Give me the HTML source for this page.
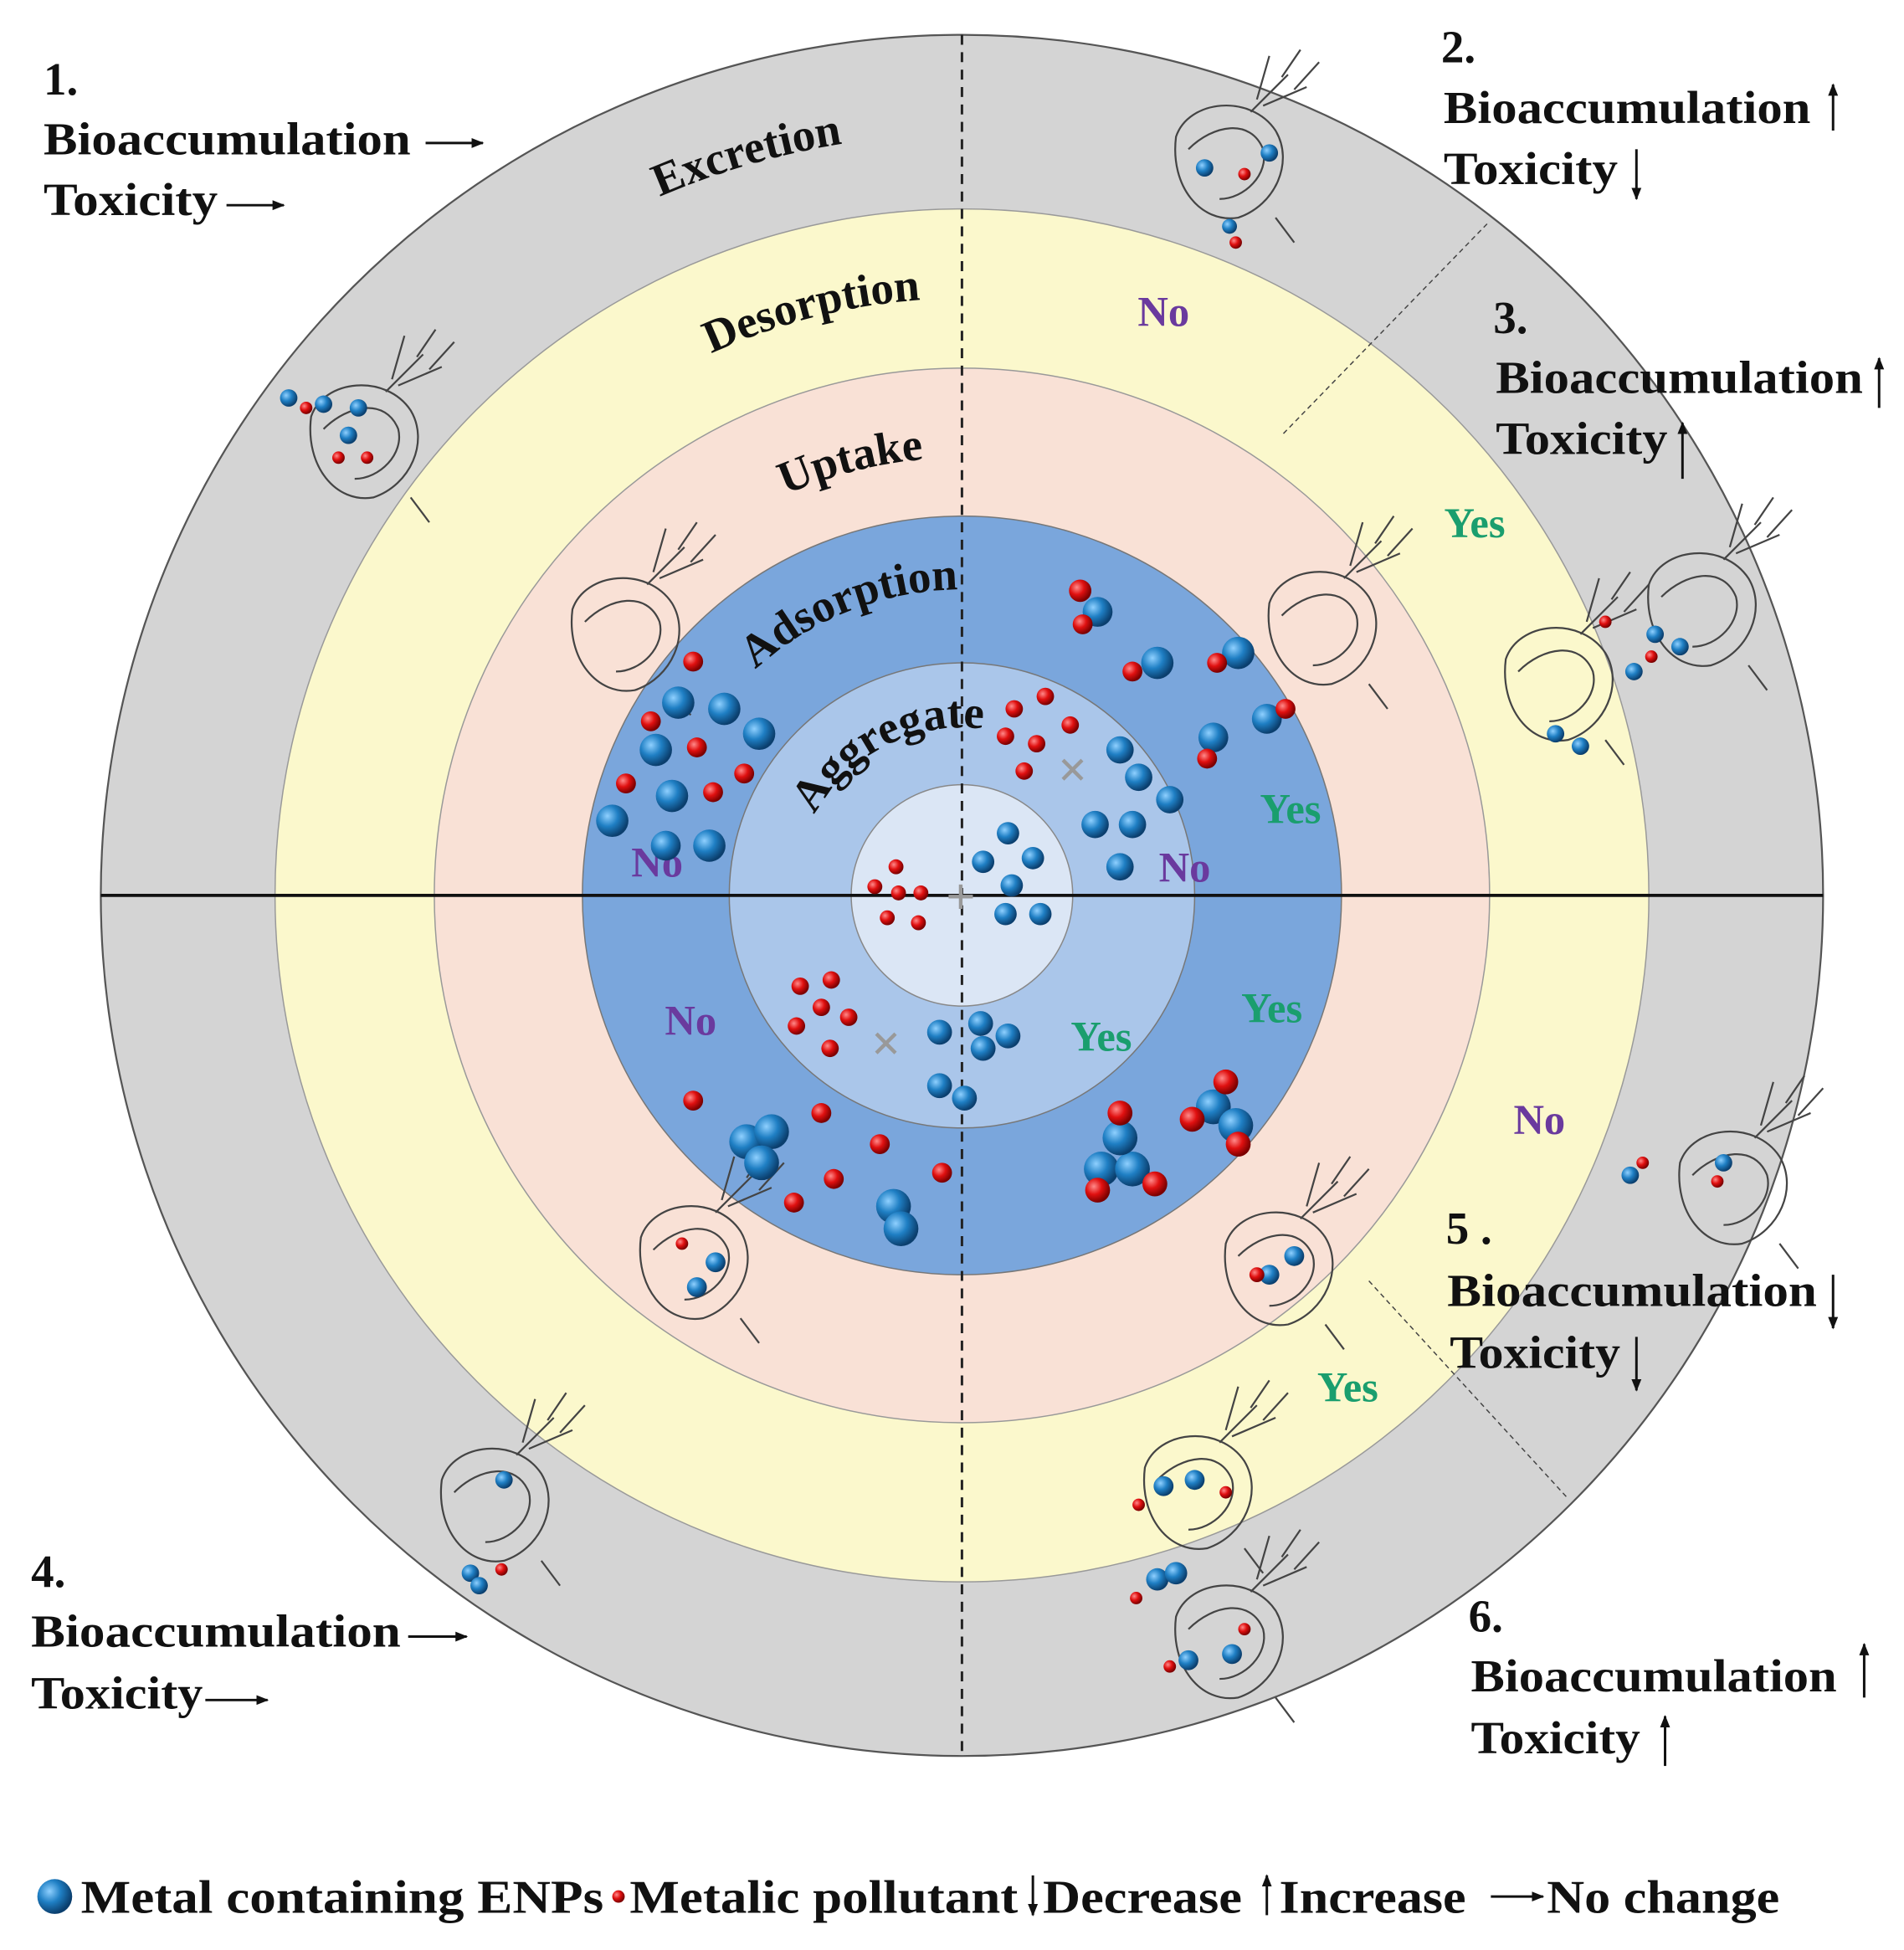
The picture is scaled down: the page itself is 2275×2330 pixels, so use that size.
<!DOCTYPE html>
<html><head><meta charset="utf-8"><style>
html,body{margin:0;padding:0;background:#fff;}
svg{display:block;}
text{font-family:"Liberation Serif",serif;font-weight:bold;}
</style></head><body>
<svg width="2275" height="2330" viewBox="0 0 1530 1568" preserveAspectRatio="none" xmlns="http://www.w3.org/2000/svg">
<defs>
<radialGradient id="bg" cx="35%" cy="35%" r="65%"><stop offset="0" stop-color="#8fd0ff"/><stop offset="0.5" stop-color="#1f7fc4"/><stop offset="1" stop-color="#0b3f6e"/></radialGradient>
<radialGradient id="rg" cx="35%" cy="35%" r="65%"><stop offset="0" stop-color="#ff8a8a"/><stop offset="0.5" stop-color="#e01010"/><stop offset="1" stop-color="#7a0000"/></radialGradient>
<marker id="ah" viewBox="0 0 10 10" refX="9" refY="5" markerWidth="5" markerHeight="5" orient="auto"><path d="M0,1 L10,5 L0,9 Z" fill="#111"/></marker>
<g id="daph" fill="none" stroke="#444" stroke-width="1.5">
<path d="M-40,-10 C-30,-40 20,-45 40,-15 C55,10 40,45 10,55 C-20,60 -45,30 -40,-10Z"/>
<path d="M-30,0 C-10,-20 20,-25 30,0 C35,20 15,40 -5,40"/>
<path d="M20,-30 L50,-60 M30,-35 L65,-50 M25,-40 L35,-75 M45,-58 L60,-80 M55,-48 L75,-70"/>
<path d="M40,55 L55,75"/>
</g>
</defs>
<rect width="1530" height="1568" fill="#fff"/>
<circle cx="773" cy="720" r="692" fill="#d4d4d4" stroke="#555" stroke-width="1.5"/>
<circle cx="773" cy="720" r="552" fill="#fbf8cc" stroke="#999" stroke-width="1"/>
<circle cx="773" cy="720" r="424" fill="#f9e1d6" stroke="#999" stroke-width="1"/>
<circle cx="773" cy="720" r="305" fill="#7aa6dc" stroke="#777" stroke-width="1"/>
<circle cx="773" cy="720" r="187" fill="#aac6ea" stroke="#777" stroke-width="1"/>
<circle cx="773" cy="720" r="89" fill="#dbe6f5" stroke="#888" stroke-width="1"/>
<line x1="81" y1="720" x2="1465" y2="720" stroke="#111" stroke-width="2.5"/>
<line x1="773" y1="28" x2="773" y2="1412" stroke="#222" stroke-width="2" stroke-dasharray="8,6"/>
<line x1="1195" y1="180" x2="1030" y2="350" stroke="#444" stroke-width="1" stroke-dasharray="4,3"/>
<line x1="1100" y1="1030" x2="1260" y2="1205" stroke="#444" stroke-width="1" stroke-dasharray="4,3"/>
<path id="p1" d="M161,720 A612,612 0 0 1 1385,720" fill="none"/>
<path id="p2" d="M293,720 A480,480 0 0 1 1253,720" fill="none"/>
<path id="p3" d="M421,720 A352,352 0 0 1 1125,720" fill="none"/>
<path id="p4" d="M527,720 A246,246 0 0 1 1019,720" fill="none"/>
<path id="p5" d="M638,720 A135,135 0 0 1 908,720" fill="none"/>
<g font-size="37" fill="#111">
<text><textPath href="#p1" startOffset="41%" text-anchor="middle">Excretion</textPath></text>
<text><textPath href="#p2" startOffset="42%" text-anchor="middle">Desorption</textPath></text>
<text><textPath href="#p3" startOffset="42%" text-anchor="middle">Uptake</textPath></text>
<text><textPath href="#p4" startOffset="38%" text-anchor="middle">Adsorption</textPath></text>
<text><textPath href="#p5" startOffset="35%" text-anchor="middle">Aggregate</textPath></text>
</g>
<g font-size="34" text-anchor="middle">
<text x="935" y="262" fill="#6a3a9e">No</text>
<text x="1185" y="432" fill="#1a9e6e">Yes</text>
<text x="1037" y="662" fill="#1a9e6e">Yes</text>
<text x="952" y="709" fill="#6a3a9e">No</text>
<text x="528" y="705" fill="#6a3a9e">No</text>
<text x="555" y="832" fill="#6a3a9e">No</text>
<text x="885" y="845" fill="#1a9e6e">Yes</text>
<text x="1022" y="822" fill="#1a9e6e">Yes</text>
<text x="1237" y="912" fill="#6a3a9e">No</text>
<text x="1083" y="1127" fill="#1a9e6e">Yes</text>
</g>
<g>
<use href="#daph" x="290" y="345"/><use href="#daph" x="500" y="500"/><use href="#daph" x="985" y="120"/>
<use href="#daph" x="1060" y="495"/><use href="#daph" x="1250" y="540"/><use href="#daph" x="1365" y="480"/>
<use href="#daph" x="1390" y="945"/><use href="#daph" x="1025" y="1010"/><use href="#daph" x="555" y="1005"/>
<use href="#daph" x="395" y="1200"/><use href="#daph" x="960" y="1190"/><use href="#daph" x="985" y="1310"/>
</g>
<g fill="url(#bg)">
<circle cx="545" cy="565" r="13"/><circle cx="582" cy="570" r="13"/><circle cx="610" cy="590" r="13"/><circle cx="527" cy="603" r="13"/>
<circle cx="540" cy="640" r="13"/><circle cx="492" cy="660" r="13"/><circle cx="535" cy="680" r="12"/><circle cx="570" cy="680" r="13"/>
<circle cx="882" cy="492" r="12"/><circle cx="930" cy="533" r="13"/><circle cx="995" cy="525" r="13"/><circle cx="975" cy="593" r="12"/><circle cx="1018" cy="578" r="12"/>
<circle cx="900" cy="603" r="11"/><circle cx="915" cy="625" r="11"/><circle cx="940" cy="643" r="11"/><circle cx="880" cy="663" r="11"/><circle cx="910" cy="663" r="11"/><circle cx="900" cy="697" r="11"/>
<circle cx="810" cy="670" r="9"/><circle cx="790" cy="693" r="9"/><circle cx="830" cy="690" r="9"/><circle cx="813" cy="712" r="9"/><circle cx="808" cy="735" r="9"/><circle cx="836" cy="735" r="9"/>
<circle cx="755" cy="830" r="10"/><circle cx="788" cy="823" r="10"/><circle cx="810" cy="833" r="10"/><circle cx="790" cy="843" r="10"/><circle cx="755" cy="873" r="10"/><circle cx="775" cy="883" r="10"/>
<circle cx="600" cy="918" r="14"/><circle cx="620" cy="910" r="14"/><circle cx="612" cy="935" r="14"/><circle cx="718" cy="970" r="14"/><circle cx="724" cy="988" r="14"/>
<circle cx="885" cy="940" r="14"/><circle cx="910" cy="940" r="14"/><circle cx="900" cy="915" r="14"/><circle cx="975" cy="890" r="14"/><circle cx="993" cy="905" r="14"/>
<circle cx="260" cy="325" r="7"/><circle cx="288" cy="328" r="7"/><circle cx="280" cy="350" r="7"/><circle cx="232" cy="320" r="7"/>
<circle cx="1313" cy="540" r="7"/><circle cx="1350" cy="520" r="7"/><circle cx="1330" cy="510" r="7"/><circle cx="1250" cy="590" r="7"/><circle cx="1270" cy="600" r="7"/>
<circle cx="988" cy="182" r="6"/><circle cx="1020" cy="123" r="7"/><circle cx="968" cy="135" r="7"/>
<circle cx="1310" cy="945" r="7"/><circle cx="1385" cy="935" r="7"/><circle cx="1020" cy="1025" r="8"/><circle cx="1040" cy="1010" r="8"/>
<circle cx="378" cy="1265" r="7"/><circle cx="385" cy="1275" r="7"/><circle cx="405" cy="1190" r="7"/>
<circle cx="930" cy="1270" r="9"/><circle cx="945" cy="1265" r="9"/><circle cx="990" cy="1330" r="8"/><circle cx="955" cy="1335" r="8"/>
<circle cx="575" cy="1015" r="8"/><circle cx="560" cy="1035" r="8"/><circle cx="935" cy="1195" r="8"/><circle cx="960" cy="1190" r="8"/>
<circle cx="44" cy="1525" r="14"/>
</g>
<g fill="url(#rg)">
<circle cx="557" cy="532" r="8"/><circle cx="523" cy="580" r="8"/><circle cx="560" cy="601" r="8"/><circle cx="503" cy="630" r="8"/><circle cx="573" cy="637" r="8"/><circle cx="598" cy="622" r="8"/>
<circle cx="868" cy="475" r="9"/><circle cx="870" cy="502" r="8"/><circle cx="910" cy="540" r="8"/><circle cx="978" cy="533" r="8"/><circle cx="970" cy="610" r="8"/><circle cx="1033" cy="570" r="8"/>
<circle cx="815" cy="570" r="7"/><circle cx="840" cy="560" r="7"/><circle cx="860" cy="583" r="7"/><circle cx="808" cy="592" r="7"/><circle cx="833" cy="598" r="7"/><circle cx="823" cy="620" r="7"/>
<circle cx="720" cy="697" r="6"/><circle cx="703" cy="713" r="6"/><circle cx="722" cy="718" r="6"/><circle cx="740" cy="718" r="6"/><circle cx="713" cy="738" r="6"/><circle cx="738" cy="742" r="6"/>
<circle cx="643" cy="793" r="7"/><circle cx="668" cy="788" r="7"/><circle cx="660" cy="810" r="7"/><circle cx="640" cy="825" r="7"/><circle cx="682" cy="818" r="7"/><circle cx="667" cy="843" r="7"/>
<circle cx="557" cy="885" r="8"/><circle cx="660" cy="895" r="8"/><circle cx="707" cy="920" r="8"/><circle cx="757" cy="943" r="8"/><circle cx="670" cy="948" r="8"/><circle cx="638" cy="967" r="8"/>
<circle cx="900" cy="895" r="10"/><circle cx="882" cy="957" r="10"/><circle cx="928" cy="952" r="10"/><circle cx="985" cy="870" r="10"/><circle cx="958" cy="900" r="10"/><circle cx="995" cy="920" r="10"/>
<circle cx="246" cy="328" r="5"/><circle cx="272" cy="368" r="5"/><circle cx="295" cy="368" r="5"/><circle cx="1327" cy="528" r="5"/><circle cx="1290" cy="500" r="5"/>
<circle cx="993" cy="195" r="5"/><circle cx="1000" cy="140" r="5"/><circle cx="1320" cy="935" r="5"/><circle cx="1380" cy="950" r="5"/>
<circle cx="403" cy="1262" r="5"/><circle cx="913" cy="1285" r="5"/><circle cx="1000" cy="1310" r="5"/><circle cx="940" cy="1340" r="5"/><circle cx="1010" cy="1025" r="6"/>
<circle cx="548" cy="1000" r="5"/><circle cx="915" cy="1210" r="5"/><circle cx="985" cy="1200" r="5"/>
<circle cx="497" cy="1525" r="5"/>
</g>
<g font-size="42" fill="#999" text-anchor="middle"><text x="772" y="735">+</text><text x="862" y="633">×</text><text x="712" y="853">×</text></g>
<g font-size="37" fill="#111">
<text x="35" y="76">1.</text><text x="35" y="124" textLength="295" lengthAdjust="spacingAndGlyphs">Bioaccumulation</text><text x="35" y="173" textLength="140" lengthAdjust="spacingAndGlyphs">Toxicity</text>
<text x="1158" y="50">2.</text><text x="1160" y="99" textLength="295" lengthAdjust="spacingAndGlyphs">Bioaccumulation</text><text x="1160" y="148" textLength="140" lengthAdjust="spacingAndGlyphs">Toxicity</text>
<text x="1200" y="268">3.</text><text x="1202" y="316" textLength="295" lengthAdjust="spacingAndGlyphs">Bioaccumulation</text><text x="1202" y="365" textLength="138" lengthAdjust="spacingAndGlyphs">Toxicity</text>
<text x="25" y="1276">4.</text><text x="25" y="1324" textLength="297" lengthAdjust="spacingAndGlyphs">Bioaccumulation</text><text x="25" y="1374" textLength="138" lengthAdjust="spacingAndGlyphs">Toxicity</text>
<text x="1162" y="1000">5 .</text><text x="1163" y="1050" textLength="297" lengthAdjust="spacingAndGlyphs">Bioaccumulation</text><text x="1165" y="1100" textLength="137" lengthAdjust="spacingAndGlyphs">Toxicity</text>
<text x="1180" y="1312">6.</text><text x="1182" y="1360" textLength="294" lengthAdjust="spacingAndGlyphs">Bioaccumulation</text><text x="1182" y="1410" textLength="136" lengthAdjust="spacingAndGlyphs">Toxicity</text>
</g>
<g stroke="#111" stroke-width="2" marker-end="url(#ah)">
<line x1="342" y1="115" x2="388" y2="115"/><line x1="182" y1="165" x2="228" y2="165"/>
<line x1="1473" y1="105" x2="1473" y2="68"/><line x1="1315" y1="120" x2="1315" y2="160"/>
<line x1="1510" y1="328" x2="1510" y2="288"/><line x1="1352" y1="385" x2="1352" y2="340"/>
<line x1="328" y1="1316" x2="375" y2="1316"/><line x1="165" y1="1367" x2="215" y2="1367"/>
<line x1="1473" y1="1025" x2="1473" y2="1068"/><line x1="1315" y1="1075" x2="1315" y2="1118"/>
<line x1="1498" y1="1365" x2="1498" y2="1322"/><line x1="1338" y1="1420" x2="1338" y2="1380"/>
<line x1="1198" y1="1525" x2="1240" y2="1525"/>
</g>
<g stroke="#111" stroke-width="2" marker-end="url(#ah)">
<line x1="830" y1="1508" x2="830" y2="1540"/><line x1="1018" y1="1540" x2="1018" y2="1508"/>
</g>
<g font-size="38" fill="#111">
<text x="65" y="1538" textLength="420" lengthAdjust="spacingAndGlyphs">Metal containing ENPs</text>
<text x="506" y="1538" textLength="312" lengthAdjust="spacingAndGlyphs">Metalic pollutant</text>
<text x="838" y="1538" textLength="160" lengthAdjust="spacingAndGlyphs">Decrease</text>
<text x="1028" y="1538" textLength="150" lengthAdjust="spacingAndGlyphs">Increase</text>
<text x="1243" y="1538" textLength="187" lengthAdjust="spacingAndGlyphs">No change</text>
</g>
</svg>
</body></html>
